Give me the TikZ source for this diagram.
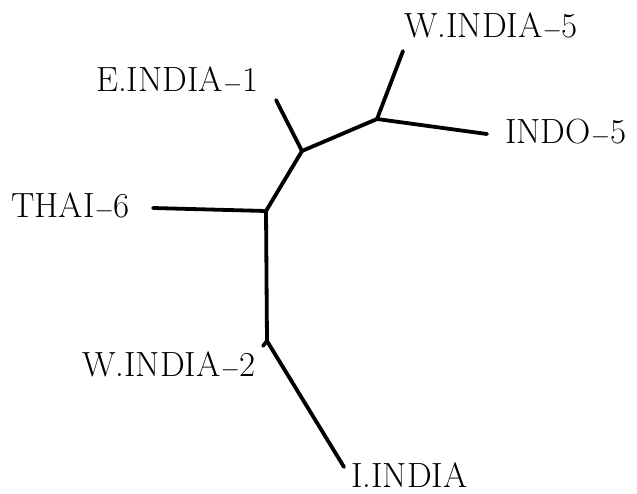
\documentclass[tikz,border=0pt]{standalone}
\usepackage{fontspec}
\begin{document}
\begin{tikzpicture}[x=1pt,y=-1pt,
  branch/.style={line width=3.8pt,line cap=round,line join=round},
  taxon/.style={inner sep=0pt,anchor=base west,font=\fontsize{35}{40}\selectfont}]
\useasboundingbox (0,0) rectangle (637,493);
% internal nodes of the tree
\coordinate (ja) at (377,119);
\coordinate (jb) at (302,151);
\coordinate (jc) at (266,211);
\coordinate (jd) at (267,341);
% leaf ends
\coordinate (lw5) at (403,51);
\coordinate (li5) at (487,134);
\coordinate (le1) at (276,100);
\coordinate (lt6) at (153,208);
\coordinate (lw2) at (263,346);
\coordinate (lii) at (344,467);
% branches
\draw[branch] (lw5) -- (ja) -- (li5);
\draw[branch] (ja) -- (jb) -- (le1);
\draw[branch] (jb) -- (jc) -- (lt6);
\draw[branch] (jc) -- (jd) -- (lii);
\draw[branch] (jd) -- (lw2);
% taxon labels
\node[taxon] (nw5) at (404,37) {W.INDIA$-$5};
\node[taxon] (ni5) at (505,143) {INDO$-$5};
\node[taxon] (ne1) at (96,91) {E.INDIA$-$1};
\node[taxon] (nt6) at (11,217) {THAI$-$6};
\node[taxon] (nw2) at (82,376) {W.INDIA$-$2};
\node[taxon] (nii) at (351,487) {I.INDIA};
\end{tikzpicture}
\end{document}
